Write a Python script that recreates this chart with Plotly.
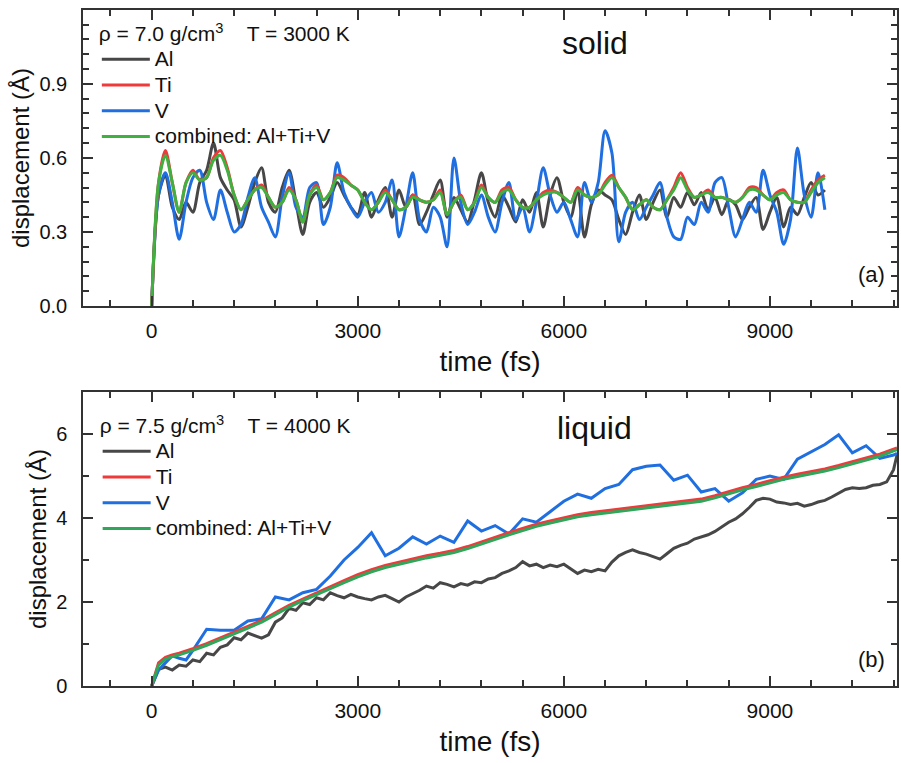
import plotly.graph_objects as go

# ---------------- data: (a) solid, rho = 7.0 g/cm3, T = 3000 K ----------------
T_TOP = list(range(0, 9900, 100))  # time (fs)

AL_TOP = [0.00, 0.45, 0.53, 0.40, 0.35, 0.42, 0.38, 0.50, 0.55, 0.66,
          0.52, 0.47, 0.43, 0.32, 0.40, 0.50, 0.56, 0.42, 0.38, 0.48,
          0.55, 0.42, 0.29, 0.42, 0.46, 0.40, 0.44, 0.50, 0.45, 0.40,
          0.37, 0.46, 0.36, 0.43, 0.48, 0.36, 0.47, 0.40, 0.45, 0.33,
          0.38, 0.45, 0.51, 0.36, 0.44, 0.39, 0.34, 0.43, 0.54, 0.42,
          0.36, 0.45, 0.40, 0.34, 0.43, 0.38, 0.46, 0.32, 0.45, 0.52,
          0.42, 0.36, 0.47, 0.28, 0.41, 0.47, 0.45, 0.43, 0.35, 0.29,
          0.38, 0.45, 0.35, 0.42, 0.47, 0.36, 0.44, 0.40, 0.46, 0.41,
          0.46, 0.39, 0.44, 0.37, 0.43, 0.41, 0.35, 0.40, 0.44, 0.31,
          0.38, 0.44, 0.32, 0.40, 0.37, 0.44, 0.50, 0.45, 0.47]

TI_TOP = [0.00, 0.50, 0.63, 0.50, 0.38, 0.50, 0.55, 0.51, 0.52, 0.60,
          0.63, 0.56, 0.45, 0.39, 0.43, 0.47, 0.49, 0.44, 0.40, 0.42,
          0.48, 0.43, 0.34, 0.45, 0.49, 0.43, 0.46, 0.53, 0.52, 0.49,
          0.47, 0.42, 0.39, 0.42, 0.47, 0.43, 0.39, 0.40, 0.45, 0.43,
          0.42, 0.43, 0.47, 0.37, 0.42, 0.45, 0.39, 0.42, 0.49, 0.44,
          0.42, 0.47, 0.48, 0.43, 0.40, 0.40, 0.43, 0.46, 0.47, 0.46,
          0.44, 0.42, 0.48, 0.45, 0.44, 0.45, 0.50, 0.53, 0.48, 0.44,
          0.39, 0.41, 0.43, 0.40, 0.39, 0.43, 0.48, 0.54, 0.48, 0.44,
          0.45, 0.47, 0.44, 0.44, 0.43, 0.42, 0.44, 0.48, 0.48, 0.45,
          0.43, 0.46, 0.47, 0.43, 0.42, 0.42, 0.47, 0.51, 0.53]

V_TOP = [0.00, 0.45, 0.54, 0.42, 0.27, 0.42, 0.52, 0.55, 0.42, 0.35,
         0.47, 0.38, 0.30, 0.33, 0.44, 0.52, 0.40, 0.34, 0.28, 0.44,
         0.54, 0.40, 0.36, 0.48, 0.50, 0.33, 0.40, 0.58, 0.46, 0.40,
         0.36, 0.42, 0.46, 0.38, 0.42, 0.51, 0.28, 0.40, 0.54, 0.35,
         0.30, 0.40, 0.36, 0.24, 0.60, 0.42, 0.33, 0.38, 0.45, 0.36,
         0.30, 0.42, 0.50, 0.35, 0.40, 0.30, 0.42, 0.56, 0.45, 0.38,
         0.42, 0.35, 0.28, 0.50, 0.42, 0.50, 0.71, 0.62, 0.26, 0.38,
         0.42, 0.35, 0.40, 0.45, 0.50, 0.36, 0.28, 0.27, 0.36, 0.33,
         0.42, 0.38, 0.50, 0.52, 0.40, 0.28, 0.35, 0.42, 0.38, 0.55,
         0.45, 0.38, 0.25, 0.35, 0.64, 0.45, 0.36, 0.54, 0.39]

COMB_TOP = [0.00, 0.50, 0.61, 0.50, 0.38, 0.50, 0.54, 0.51, 0.52, 0.59,
            0.61, 0.55, 0.45, 0.39, 0.43, 0.47, 0.48, 0.44, 0.40, 0.42,
            0.47, 0.43, 0.34, 0.45, 0.48, 0.43, 0.46, 0.52, 0.51, 0.49,
            0.47, 0.42, 0.39, 0.42, 0.46, 0.43, 0.39, 0.40, 0.44, 0.43,
            0.42, 0.43, 0.46, 0.37, 0.42, 0.44, 0.39, 0.42, 0.48, 0.44,
            0.42, 0.46, 0.47, 0.43, 0.40, 0.40, 0.43, 0.45, 0.46, 0.46,
            0.44, 0.42, 0.47, 0.45, 0.44, 0.45, 0.49, 0.52, 0.48, 0.44,
            0.39, 0.41, 0.43, 0.40, 0.39, 0.43, 0.47, 0.52, 0.47, 0.44,
            0.45, 0.46, 0.44, 0.44, 0.43, 0.42, 0.44, 0.47, 0.47, 0.45,
            0.43, 0.45, 0.46, 0.43, 0.42, 0.42, 0.46, 0.50, 0.52]

# ---------------- data: (b) liquid, rho = 7.5 g/cm3, T = 4000 K ----------------
T_BOT = [0, 100, 200, 300, 400, 500, 600, 800, 1000, 1200, 1400, 1600, 1800,
         2000, 2200, 2400, 2600, 2800, 3000, 3200, 3400, 3600, 3800, 4000,
         4200, 4400, 4600, 4800, 5000, 5200, 5400, 5600, 5800, 6000, 6200,
         6400, 6600, 6800, 7000, 7200, 7400, 7600, 7800, 8000, 8200, 8400,
         8600, 8800, 9000, 9200, 9400, 9600, 9800, 10000, 10200, 10400,
         10600, 10800, 10850]

T_BOT_AL = list(range(0, 10900, 100)) + [10850]
AL_BOT = [0.00, 0.40, 0.45, 0.38, 0.50, 0.47, 0.62, 0.58, 0.78, 0.74,
          0.92, 0.98, 1.15, 1.10, 1.26, 1.20, 1.14, 1.22, 1.52, 1.62,
          1.85, 1.80, 1.98, 1.94, 2.10, 2.05, 2.22, 2.15, 2.10, 2.18,
          2.12, 2.08, 2.05, 2.12, 2.16, 2.08, 2.00, 2.12, 2.20, 2.28,
          2.38, 2.33, 2.46, 2.42, 2.36, 2.44, 2.40, 2.48, 2.46, 2.55,
          2.58, 2.68, 2.74, 2.82, 2.96, 2.86, 2.90, 2.82, 2.88, 2.84,
          2.90, 2.78, 2.68, 2.76, 2.72, 2.78, 2.74, 2.95, 3.10, 3.18,
          3.24, 3.18, 3.14, 3.08, 3.02, 3.15, 3.28, 3.35, 3.40, 3.50,
          3.55, 3.60, 3.68, 3.80, 3.90, 3.98, 4.10, 4.25, 4.42, 4.47,
          4.45, 4.38, 4.36, 4.32, 4.35, 4.28, 4.32, 4.38, 4.42, 4.50,
          4.60, 4.68, 4.72, 4.70, 4.72, 4.78, 4.80, 4.86, 5.15, 5.50]

TI_BOT = [0.00, 0.55, 0.68, 0.74, 0.78, 0.83, 0.89, 1.01, 1.14, 1.28, 1.42,
          1.56, 1.74, 1.92, 2.07, 2.22, 2.37, 2.51, 2.65, 2.77, 2.87, 2.95,
          3.03, 3.10, 3.16, 3.23, 3.32, 3.43, 3.55, 3.65, 3.75, 3.85, 3.93,
          4.00, 4.08, 4.13, 4.17, 4.21, 4.26, 4.30, 4.33, 4.37, 4.41, 4.45,
          4.53, 4.63, 4.72, 4.80, 4.89, 4.97, 5.04, 5.10, 5.17, 5.25, 5.34,
          5.43, 5.52, 5.64, 5.67]

V_BOT = [0.00, 0.38, 0.55, 0.72, 0.66, 0.62, 0.85, 1.35, 1.33, 1.33, 1.55,
         1.60, 2.12, 2.05, 2.22, 2.30, 2.62, 3.00, 3.30, 3.65, 3.10, 3.28,
         3.55, 3.38, 3.57, 3.42, 3.93, 3.69, 3.82, 3.62, 3.98, 3.90, 4.15,
         4.40, 4.57, 4.47, 4.70, 4.80, 5.15, 5.23, 5.26, 4.90, 5.02, 4.62,
         4.70, 4.40, 4.60, 4.92, 5.00, 4.92, 5.40, 5.58, 5.75, 5.98, 5.55,
         5.72, 5.42, 5.50, 5.54]

COMB_BOT = [0.00, 0.50, 0.64, 0.70, 0.74, 0.79, 0.85, 0.97, 1.10, 1.24, 1.38,
            1.52, 1.70, 1.88, 2.03, 2.18, 2.32, 2.46, 2.60, 2.72, 2.82, 2.90,
            2.98, 3.05, 3.11, 3.18, 3.27, 3.38, 3.50, 3.60, 3.70, 3.80, 3.88,
            3.95, 4.03, 4.08, 4.12, 4.16, 4.21, 4.25, 4.28, 4.32, 4.36, 4.40,
            4.48, 4.58, 4.67, 4.75, 4.84, 4.92, 4.99, 5.05, 5.12, 5.20, 5.29,
            5.38, 5.47, 5.60, 5.63]

SERIES_NAMES = ["Al", "Ti", "V", "combined: Al+Ti+V"]
X_TICKS = [0, 3000, 6000, 9000]

# ---------------- styling ----------------
FONT = "Liberation Sans, Arial, sans-serif"
C_AL, C_TI, C_V = "#474747", "#ee3a3a", "#1f6fe0"
C_COMB_TOP, C_COMB_BOT = "#40b040", "#2fa65a"
LW = 3
TXT = "#111111"
AX = "#333333"

fig = go.Figure()


def add(x, y, name, color, xa, ya, legend, rank, shape):
    fig.add_trace(go.Scatter(
        x=x, y=y, mode="lines", xaxis=xa, yaxis=ya,
        name="<span style='font-size:21px'>" + name + "</span>",
        line=dict(color=color, width=LW, shape=shape, smoothing=0.8),
        legend=legend, legendrank=rank, hoverinfo="skip"))


# top panel (draw order: Al, V, Ti, combined)
add(T_TOP, AL_TOP, SERIES_NAMES[0], C_AL, "x", "y", "legend", 1, "spline")
add(T_TOP, V_TOP, SERIES_NAMES[2], C_V, "x", "y", "legend", 3, "spline")
add(T_TOP, TI_TOP, SERIES_NAMES[1], C_TI, "x", "y", "legend", 2, "spline")
add(T_TOP, COMB_TOP, SERIES_NAMES[3], C_COMB_TOP, "x", "y", "legend", 4, "spline")

# bottom panel
add(T_BOT_AL, AL_BOT, SERIES_NAMES[0], C_AL, "x2", "y2", "legend2", 1, "linear")
add(T_BOT, V_BOT, SERIES_NAMES[2], C_V, "x2", "y2", "legend2", 3, "linear")
add(T_BOT, TI_BOT, SERIES_NAMES[1], C_TI, "x2", "y2", "legend2", 2, "linear")
add(T_BOT, COMB_BOT, SERIES_NAMES[3], C_COMB_BOT, "x2", "y2", "legend2", 4, "linear")

axis_common = dict(
    showline=True, linecolor=AX, linewidth=1.5, mirror="ticks",
    ticks="inside", ticklen=10, tickwidth=1.5, tickcolor=AX,
    showgrid=False, zeroline=False,
)
xcommon = dict(axis_common, range=[-1000, 10850], tickmode="array", tickvals=X_TICKS,
               minor=dict(dtick=600, tick0=0, ticks="inside", ticklen=6,
                          tickwidth=1.5, tickcolor=AX),
               tickfont=dict(size=21, color=TXT), ticklabelstandoff=5,
               title=dict(text="time (fs)", font=dict(size=28, color=TXT), standoff=10))

ycommon = dict(axis_common, tickfont=dict(size=20, color=TXT), ticklabelstandoff=10,
               title=dict(text="displacement (Å)", font=dict(size=24, color=TXT), standoff=3))

legend_common = dict(
    xanchor="left", yanchor="top", bgcolor="rgba(0,0,0,0)",
    font=dict(size=17.5, color=TXT), itemwidth=48, tracegroupgap=0)

fig.update_layout(
    width=901, height=763,
    margin=dict(l=83, r=2, t=10, b=77),
    paper_bgcolor="white", plot_bgcolor="white",
    font=dict(family=FONT, color=TXT),
    showlegend=True,
    xaxis=dict(xcommon, anchor="y", domain=[0, 1]),
    xaxis2=dict(xcommon, anchor="y2", domain=[0, 1]),
    yaxis=dict(ycommon, domain=[0.5621, 1], range=[0, 1.199], dtick=0.3, tick0=0,
               tickformat=".1f",
               minor=dict(dtick=0.06, tick0=0, ticks="inside", ticklen=6,
                          tickwidth=1.5, tickcolor=AX)),
    yaxis2=dict(ycommon, domain=[0, 0.4349], range=[0, 7], dtick=2, tick0=0,
                minor=dict(dtick=1, tick0=0, ticks="inside", ticklen=6,
                           tickwidth=1.5, tickcolor=AX)),
    legend=dict(legend_common, x=0.017, y=0.994,
                title=dict(text="ρ = 7.0 g/cm<sup>3</sup>\u00a0\u00a0\u00a0\u00a0T = 3000 K",
                           font=dict(size=21, color=TXT))),
    legend2=dict(legend_common, x=0.018, y=0.414,
                 title=dict(text="ρ = 7.5 g/cm<sup>3</sup>\u00a0\u00a0\u00a0\u00a0T = 4000 K",
                            font=dict(size=21, color=TXT))),
    annotations=[
        dict(text="solid", x=0.6287, y=0.951, xref="paper", yref="paper",
             xanchor="center", yanchor="middle",
             showarrow=False, font=dict(size=32, color=TXT)),
        dict(text="liquid", x=0.6287, y=0.381, xref="paper", yref="paper",
             xanchor="center", yanchor="middle",
             showarrow=False, font=dict(size=32, color=TXT)),
        dict(text="(a)", x=0.969, y=0.608, xref="paper", yref="paper",
             xanchor="center", yanchor="middle",
             showarrow=False, font=dict(size=22, color=TXT)),
        dict(text="(b)", x=0.969, y=0.0385, xref="paper", yref="paper",
             xanchor="center", yanchor="middle",
             showarrow=False, font=dict(size=22, color=TXT)),
    ],
)

fig.write_html("out.html")
